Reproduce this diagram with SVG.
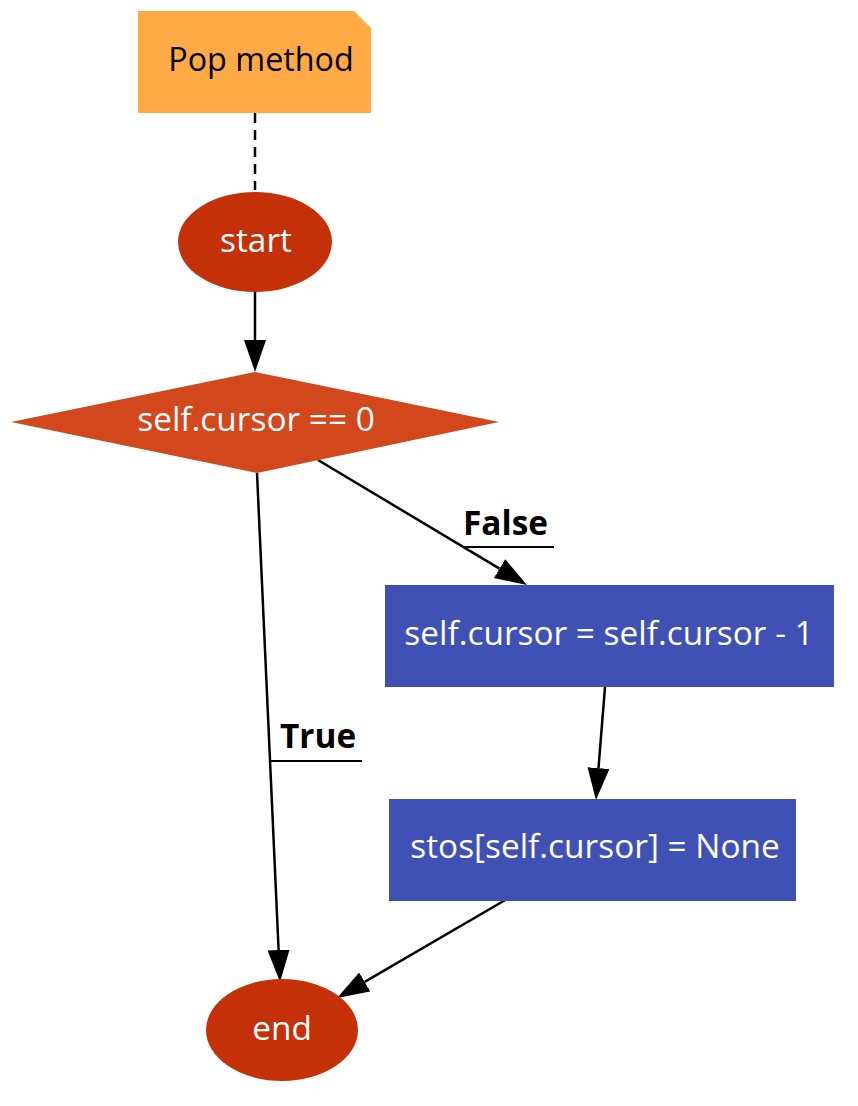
<svg xmlns="http://www.w3.org/2000/svg" width="858" height="1106" viewBox="0 0 858 1106">
<style>
text{font-family:"Open Sans","Noto Sans",sans-serif;font-size:33.4px;text-anchor:middle}
.w{fill:#ffffff}
.lbl{font-weight:bold;fill:#000;text-anchor:start}
.e{stroke:#000;stroke-width:2.5;fill:none}
.u{stroke:#000;stroke-width:2}
</style>
<defs>
<marker id="ah" markerUnits="userSpaceOnUse" markerWidth="34" markerHeight="24" refX="0" refY="11" orient="auto" viewBox="0 0 34 24">
<path d="M0,0 L32,11 L0,22 Z" fill="#000"/>
</marker>
</defs>
<rect width="858" height="1106" fill="#fff"/>
<g id="connectors">
<path class="e" d="M255,113 L255,190" stroke-dasharray="10,7"/>
<path class="e" d="M255,292 L255,340" marker-end="url(#ah)"/>
<path class="e" d="M318,460 L499.5,568.6" marker-end="url(#ah)"/>
<line class="u" x1="464" y1="547" x2="554" y2="547"/>
<text class="lbl" x="463" y="535">False</text>
<path class="e" d="M257,473 L278.6,950" marker-end="url(#ah)"/>
<line class="u" x1="271" y1="761" x2="362" y2="761"/>
<text class="lbl" x="280" y="748">True</text>
<path class="e" d="M605,687 L598.5,768.1" marker-end="url(#ah)"/>
<path class="e" d="M507,899 L364.7,981.9" marker-end="url(#ah)"/>
</g>
<g id="note">
<path d="M138,11 L354,11 L371,28 L371,113 L138,113 Z" fill="#ffaa44"/>
<text x="261" y="71" fill="#000" style="font-size:32.3px">Pop method</text>
</g>
<g id="start">
<ellipse cx="255" cy="242" rx="77" ry="50" fill="#c43008"/>
<text class="w" x="256" y="252">start</text>
</g>
<g id="cond">
<path d="M255,372 L499,422 L257,473 L11,422 Z" fill="#d2471b"/>
<text class="w" x="256" y="431">self.cursor == 0</text>
</g>
<g id="dec">
<rect x="385" y="585" width="449" height="102" fill="#3f51b5"/>
<text class="w" x="609" y="645">self.cursor = self.cursor - 1</text>
</g>
<g id="clear">
<rect x="389" y="799" width="407" height="102" fill="#3f51b5"/>
<text class="w" x="595" y="858">stos[self.cursor] = None</text>
</g>
<g id="end">
<ellipse cx="282" cy="1030" rx="76" ry="51" fill="#c43008"/>
<text class="w" x="282" y="1040">end</text>
</g>
</svg>
